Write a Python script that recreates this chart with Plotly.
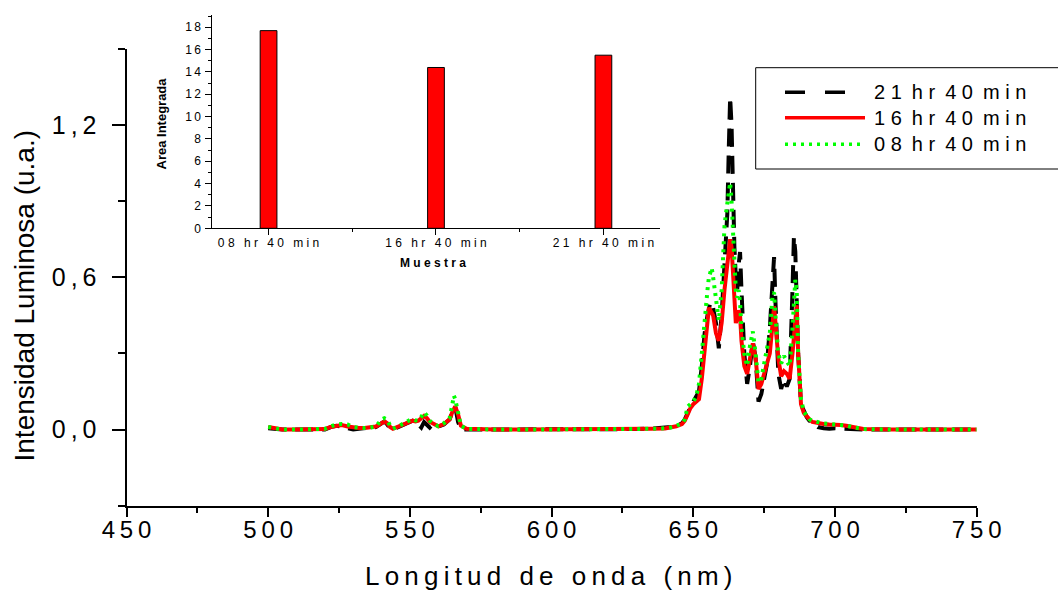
import plotly.graph_objects as go

W, H = 1058, 590

# ---------------- spectra (wavelength in nm, intensity in a.u.) ----------------
wavelength = [
    500, 505, 510, 515, 520, 522, 524, 526, 528, 530, 532, 534, 536, 538, 540,
    541, 542, 543, 544, 546, 548, 550, 551, 552, 553, 554, 555, 556, 557, 558,
    560, 562, 564, 565, 565.5, 566, 567, 568, 570,
    575, 580, 590, 600, 610, 620, 630, 635, 640, 642, 644, 646, 647, 648, 649, 650,
    651, 652, 653, 654, 655, 655.5, 656, 656.5, 657, 658, 659, 660, 660.5, 661,
    661.5, 662, 662.5, 663, 663.5, 664, 664.5, 665, 665.5, 666, 666.5, 667, 668,
    669, 670, 671, 672, 673, 674, 675, 676, 677, 678, 678.5, 679, 680, 681, 682,
    683, 684, 685, 685.5, 686, 686.5, 687, 688, 689, 690, 691, 692,
    694, 696, 698, 700, 702, 704, 706, 708, 710, 720, 730, 740, 750,
]

int_21h40 = [
    0.005, 0, 0, 0, 0, 0.01, 0.015, 0.012, 0.005, 0.0, 0.003, 0.005, 0.008, 0.01, 0.025,
    0.032, 0.02, 0.005, 0.0, 0.01, 0.02, 0.03, 0.035, 0.03, 0.02, 0.008, 0.03, 0.02, 0.008, 0.02,
    0.012, 0.02, 0.04, 0.07, 0.085, 0.09, 0.03, 0.0, 0.0,
    0, 0, 0, 0, 0, 0, 0.002, 0.004, 0.006, 0.01, 0.015, 0.025, 0.04, 0.07, 0.09, 0.11,
    0.13, 0.15, 0.25, 0.38, 0.45, 0.48, 0.5, 0.5, 0.48, 0.42, 0.32, 0.45, 0.55, 0.62,
    0.75, 0.85, 1.1, 1.31, 1.2, 0.9, 0.72, 0.6, 0.55, 0.65, 0.7, 0.55, 0.3,
    0.18, 0.25, 0.35, 0.28, 0.11, 0.14, 0.2, 0.26, 0.4, 0.62, 0.68, 0.5, 0.22, 0.16, 0.2,
    0.17, 0.2, 0.55, 0.76, 0.7, 0.5, 0.3, 0.1, 0.07, 0.05, 0.035, 0.025,
    0.01, 0.005, 0.003, 0.005, 0.004, 0.002, 0, 0, 0, 0, 0, 0, 0,
]

int_16h40 = [
    0.01, 0, 0, 0, 0.002, 0.01, 0.015, 0.018, 0.012, 0.008, 0.006, 0.006, 0.008, 0.012, 0.025,
    0.032, 0.025, 0.01, 0.003, 0.012, 0.025, 0.033, 0.035, 0.032, 0.035, 0.045, 0.054, 0.045, 0.03, 0.025,
    0.013, 0.022, 0.04, 0.07, 0.085, 0.091, 0.06, 0.015, 0.003,
    0, 0, 0, 0, 0, 0, 0.002, 0.003, 0.004, 0.008, 0.013, 0.022, 0.035, 0.06, 0.085, 0.1,
    0.11, 0.12, 0.2, 0.32, 0.42, 0.48, 0.47, 0.46, 0.45, 0.38, 0.35, 0.42, 0.5, 0.55,
    0.6, 0.65, 0.72, 0.75, 0.72, 0.6, 0.5, 0.42, 0.44, 0.47, 0.45, 0.35, 0.25,
    0.22, 0.28, 0.34, 0.28, 0.16, 0.18, 0.22, 0.25, 0.3, 0.42, 0.486, 0.42, 0.28, 0.21, 0.23,
    0.22, 0.2, 0.3, 0.38, 0.44, 0.49, 0.3, 0.1, 0.065, 0.05, 0.04, 0.03,
    0.025, 0.022, 0.02, 0.02, 0.018, 0.015, 0.01, 0.005, 0.002, 0, 0, 0, 0,
]

int_08h40 = [
    0.01, 0, 0, 0, 0.003, 0.012, 0.02, 0.022, 0.02, 0.01, 0.007, 0.006, 0.008, 0.012, 0.04,
    0.045, 0.04, 0.015, 0.003, 0.012, 0.025, 0.038, 0.041, 0.036, 0.035, 0.05, 0.069, 0.055, 0.035, 0.026,
    0.013, 0.025, 0.045, 0.1, 0.134, 0.12, 0.06, 0.015, 0.003,
    0, 0, 0, 0, 0, 0, 0.002, 0.003, 0.005, 0.008, 0.015, 0.025, 0.04, 0.09, 0.1, 0.11,
    0.13, 0.18, 0.3, 0.45, 0.55, 0.6, 0.62, 0.637, 0.6, 0.5, 0.43, 0.55, 0.7, 0.8,
    0.85, 0.9, 0.95, 0.973, 0.9, 0.75, 0.6, 0.55, 0.52, 0.55, 0.5, 0.4, 0.3,
    0.25, 0.33, 0.387, 0.3, 0.185, 0.2, 0.26, 0.3, 0.38, 0.535, 0.54, 0.45, 0.3, 0.26, 0.29,
    0.27, 0.25, 0.4, 0.5, 0.59, 0.55, 0.3, 0.12, 0.07, 0.055, 0.04, 0.035,
    0.028, 0.024, 0.022, 0.021, 0.02, 0.016, 0.01, 0.005, 0.002, 0, 0, 0, 0,
]

series_names = ["21 hr 40 min", "16 hr 40 min", "08 hr 40 min"]

# ---------------- inset: integrated area per sample ----------------
samples = ["08 hr 40 min", "16 hr 40 min", "21 hr 40 min"]
area_integrada = [17.7, 14.4, 15.5]

# ---------------- tick labels ----------------
x_ticks = [450, 500, 550, 600, 650, 700, 750]
y_ticks = [0.0, 0.6, 1.2]
y_tick_text = ["0,0", "0,6", "1,2"]
inset_y_ticks = [0, 2, 4, 6, 8, 10, 12, 14, 16, 18]

FONT = "Liberation Sans, Arial, Helvetica, sans-serif"
THIN, NBSP, EN = "\u2009", "\u00a0", "\u2002"


def spread(text, gap=THIN, word_gap=EN + THIN):
    """Letter-spaced text built from unicode spaces."""
    return word_gap.join(gap.join(w) for w in text.split(" "))


def fx(px):
    return px / W


def fy(py):
    return 1 - py / H


styles = [
    dict(color="#000000", width=4, dash="18px,9px"),
    dict(color="#ff0000", width=4, dash="solid"),
    dict(color="#00ff00", width=4, dash="3px,5px"),
]
data_series = [int_21h40, int_16h40, int_08h40]

fig = go.Figure()
for name, ys, st in zip(series_names, data_series, styles):
    fig.add_trace(go.Scatter(
        x=wavelength, y=ys, mode="lines", name=name,
        line=st, xaxis="x", yaxis="y", showlegend=False,
    ))

fig.add_trace(go.Bar(
    x=list(range(len(samples))), y=area_integrada, width=0.1,
    marker=dict(color="#ff0000", line=dict(color="#000000", width=1)),
    xaxis="x2", yaxis="y2", showlegend=False,
))

axis_common = dict(showgrid=False, zeroline=False, showline=True, automargin=False,
                   linecolor="#000000", tickcolor="#000000", mirror=False)

fig.update_layout(
    width=W, height=H,
    margin=dict(l=0, r=0, t=0, b=0, autoexpand=False),
    paper_bgcolor="white", plot_bgcolor="rgba(0,0,0,0)",
    font=dict(family=FONT, color="#000000"),
    showlegend=False,
    xaxis=dict(
        **axis_common,
        domain=[fx(126.5), fx(976.7)], range=[450, 750], anchor="y",
        linewidth=2, ticks="outside", ticklen=9, tickwidth=2,
        tickvals=x_ticks, ticktext=[spread(str(v)) for v in x_ticks],
        tickfont=dict(size=24), ticklabelstandoff=-8,
        minor=dict(ticks="outside", ticklen=5, tickwidth=2, dtick=25, tick0=450,
                   tickcolor="#000000", showgrid=False),
    ),
    yaxis=dict(
        **axis_common,
        domain=[fy(505.7), fy(49)], range=[-0.3, 1.5], anchor="x",
        linewidth=2, ticks="outside", ticklen=13, tickwidth=2,
        tickvals=y_ticks, ticktext=[THIN.join(t) for t in y_tick_text],
        tickfont=dict(size=25), ticklabelstandoff=10,
        minor=dict(ticks="outside", ticklen=7, tickwidth=2, dtick=0.3, tick0=0,
                   tickcolor="#000000", showgrid=False),
    ),
    xaxis2=dict(
        **axis_common,
        domain=[fx(212.3), fx(660)], range=[-0.336, 2.338], anchor="y2",
        linewidth=1, ticks="outside", ticklen=6, tickwidth=1,
        tickvals=list(range(len(samples))),
        ticktext=[spread(s, NBSP, EN + NBSP) for s in samples],
        tickfont=dict(size=12), ticklabelstandoff=-3,
        minor=dict(ticks="outside", ticklen=3, tickwidth=1, dtick=1, tick0=0.5,
                   tickcolor="#000000", showgrid=False),
    ),
    yaxis2=dict(
        **axis_common,
        domain=[fy(228.3), fy(15)], range=[0, 19.1], anchor="x2",
        linewidth=1, ticks="outside", ticklen=6, tickwidth=1,
        tickvals=inset_y_ticks, ticktext=[spread(str(v)) for v in inset_y_ticks],
        tickfont=dict(size=12), ticklabelstandoff=2,
        minor=dict(ticks="outside", ticklen=3, tickwidth=1, dtick=1, tick0=0,
                   tickcolor="#000000", showgrid=False),
    ),
)

annotations = [
    dict(text=spread("Longitud de onda (nm)"), x=fx(548), y=fy(576),
         font=dict(size=26)),
    dict(text="Intensidad Luminosa (u.a.)", x=fx(24), y=fy(295.5),
         textangle=-90, font=dict(size=28)),
    dict(text="<b>Area Integrada</b>", x=fx(161.5), y=fy(123),
         textangle=-90, font=dict(size=13)),
    dict(text="<b>" + spread("Muestra", NBSP) + "</b>", x=fx(433), y=fy(263),
         font=dict(size=12)),
]

# legend drawn as a framed box with line samples
legend_rows = [92.3, 117.7, 144.3]
shapes = [dict(type="rect", xref="paper", yref="paper",
               x0=fx(755.7), x1=fx(1066), y0=fy(169), y1=fy(67.7),
               line=dict(color="#000000", width=1), fillcolor="rgba(0,0,0,0)")]
legend_dash = ["20px,20px", "solid", "3px,5px"]
for name, st, dash, ry in zip(series_names, styles, legend_dash, legend_rows):
    shapes.append(dict(type="line", xref="paper", yref="paper",
                       x0=fx(785), x1=fx(865), y0=fy(ry), y1=fy(ry),
                       line=dict(color=st["color"], width=st["width"] - 0.5, dash=dash)))
    annotations.append(dict(text=spread(name, NBSP, EN), x=fx(871.7), y=fy(ry),
                            xanchor="left", font=dict(size=20)))

for a in annotations:
    a.setdefault("xref", "paper")
    a.setdefault("yref", "paper")
    a.setdefault("showarrow", False)
    a.setdefault("xanchor", "center")
    a.setdefault("yanchor", "middle")

fig.update_layout(annotations=annotations, shapes=shapes)

fig.write_html("out.html")
